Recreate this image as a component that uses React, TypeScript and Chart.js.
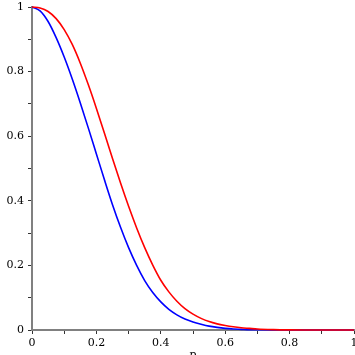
import React, { useEffect, useRef } from "react";
import { Chart, registerables } from "chart.js";

Chart.register(...registerables);

const xValues = [0, 0.025, 0.05, 0.075, 0.1, 0.125, 0.15, 0.175, 0.2, 0.225, 0.25, 0.275, 0.3, 0.325, 0.35, 0.375, 0.4, 0.425, 0.45, 0.475, 0.5, 0.525, 0.55, 0.575, 0.6, 0.625, 0.65, 0.675, 0.7, 0.75, 0.8, 0.85, 0.9, 0.95, 1];

const blueValues = [1.0, 0.988, 0.955, 0.905, 0.845, 0.777, 0.703, 0.625, 0.545, 0.465, 0.388, 0.318, 0.255, 0.2, 0.153, 0.116, 0.087, 0.064, 0.047, 0.034, 0.025, 0.018, 0.012, 0.008, 0.005, 0.003, 0.002, 0.001, 0.0006, 0.0002, 0, 0, 0, 0, 0];

const redValues = [1.0, 0.997, 0.986, 0.964, 0.93, 0.884, 0.826, 0.759, 0.686, 0.609, 0.531, 0.455, 0.383, 0.316, 0.255, 0.201, 0.154, 0.118, 0.089, 0.066, 0.049, 0.036, 0.026, 0.019, 0.014, 0.01, 0.007, 0.005, 0.003, 0.0012, 0.0004, 0.0001, 0, 0, 0];

const tickFont = { family: "DejaVu Serif", size: 11 };

function label(v: number) {
  const k = Math.round(v * 10);
  if (k % 2 !== 0) return "";
  if (k === 0) return "0";
  if (k === 10) return "1";
  return (k / 10).toString();
}

export default function App() {
  const ref = useRef<HTMLCanvasElement | null>(null);
  useEffect(() => {
    document.body.style.margin = "0";
    document.body.style.overflow = "hidden";
    const canvas = ref.current!;
    const chart = new Chart(canvas, {
      type: "line",
      data: {
        datasets: [
          {
            data: xValues.map((x, i) => ({ x, y: redValues[i] })),
            borderColor: "#ff0000",
            borderWidth: 1.6,
            pointRadius: 0,
            cubicInterpolationMode: "monotone",
            clip: false as any,
          },
          {
            data: xValues.map((x, i) => ({ x, y: blueValues[i] })),
            borderColor: "#0000ff",
            borderWidth: 1.6,
            pointRadius: 0,
            cubicInterpolationMode: "monotone",
            clip: false as any,
          },
        ],
      },
      options: {
        animation: false,
        responsive: false,
        devicePixelRatio: 1,
        layout: { padding: { top: 7, right: 1, left: 0, bottom: 0 } },
        plugins: { legend: { display: false }, tooltip: { enabled: false } },
        scales: {
          x: {
            type: "linear",
            min: 0,
            max: 1,
            ticks: {
              stepSize: 0.1,
              autoSkip: false,
              maxRotation: 0,
              padding: 3,
              color: "#000",
              font: tickFont,
              callback: (v: any) => label(Number(v)),
            },
            grid: {
              drawOnChartArea: false,
              drawTicks: true,
              tickLength: 4,
              tickColor: "#333",
            },
            border: { display: true, color: "#808080", width: 2 },
            title: {
              display: true,
              text: "p",
              color: "#000",
              font: tickFont,
              padding: 0,
            },
            afterFit: (scale: any) => {
              scale.height = 32;
              scale.paddingLeft = 0;
              scale.paddingRight = 0;
            },
          },
          y: {
            type: "linear",
            min: 0,
            max: 1,
            ticks: {
              stepSize: 0.1,
              autoSkip: false,
              padding: 4,
              color: "#000",
              font: tickFont,
              callback: (v: any) => label(Number(v)),
            },
            grid: {
              drawOnChartArea: false,
              drawTicks: true,
              tickLength: 4,
              tickColor: "#333",
            },
            border: { display: true, color: "#808080", width: 2 },
            afterFit: (scale: any) => {
              scale.width = 32;
              scale.paddingTop = 0;
              scale.paddingBottom = 0;
            },
          },
        },
      },
    });
    return () => chart.destroy();
  }, []);
  return (
    <div style={{ position: "absolute", left: 0, top: 0, width: 355, height: 355, overflow: "hidden" }}>
      <canvas ref={ref} width={355} height={362} style={{ display: "block", width: 355, height: 362 }} />
    </div>
  );
}
